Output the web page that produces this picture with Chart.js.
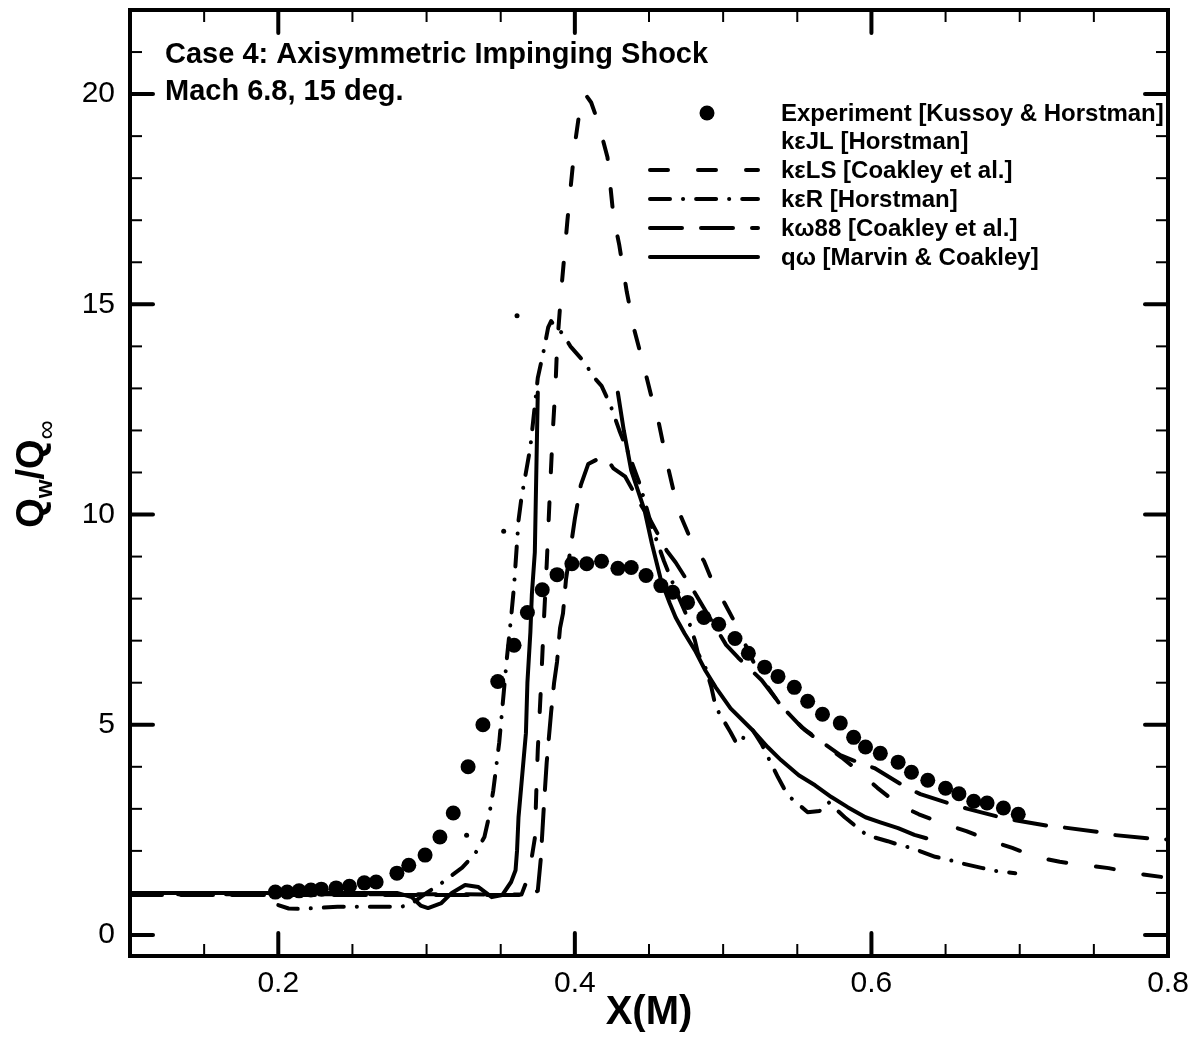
<!DOCTYPE html>
<html>
<head>
<meta charset="utf-8">
<script src="https://cdn.jsdelivr.net/npm/chart.js@4.4.1/dist/chart.umd.min.js"></script>
<style>
  html, body { margin: 0; padding: 0; background: #fff; }
</style>
</head>
<body>
<canvas id="myChart" width="1202" height="1047"></canvas>
<script>
// Achsen-Ticks
const xMajorTicks = [0.2, 0.4, 0.6, 0.8];
const xMinorTicks = [0.15, 0.25, 0.3, 0.35, 0.45, 0.5, 0.55, 0.65, 0.7, 0.75];
const yMajorTicks = [0, 5, 10, 15, 20];
const yMinorTicks = [1, 2, 3, 4, 6, 7, 8, 9, 11, 12, 13, 14, 16, 17, 18, 19, 21];

// Experiment [Kussoy & Horstman]
const expX = [0.198, 0.206, 0.214, 0.222, 0.229, 0.239, 0.248, 0.258, 0.266, 0.280, 0.288, 0.299, 0.309, 0.318, 0.328, 0.338, 0.348, 0.359, 0.368, 0.378, 0.388, 0.398, 0.408, 0.418, 0.429, 0.438, 0.448, 0.458, 0.466, 0.476, 0.487, 0.497, 0.508, 0.517, 0.528, 0.537, 0.548, 0.557, 0.567, 0.579, 0.588, 0.596, 0.606, 0.618, 0.627, 0.638, 0.650, 0.659, 0.669, 0.678, 0.689, 0.699];
const expY = [1.02, 1.02, 1.05, 1.07, 1.09, 1.12, 1.16, 1.24, 1.26, 1.47, 1.66, 1.90, 2.33, 2.90, 4.00, 5.00, 6.03, 6.89, 7.67, 8.21, 8.57, 8.83, 8.83, 8.89, 8.72, 8.74, 8.55, 8.31, 8.15, 7.91, 7.55, 7.39, 7.05, 6.70, 6.37, 6.15, 5.89, 5.56, 5.25, 5.04, 4.70, 4.47, 4.32, 4.11, 3.87, 3.68, 3.49, 3.36, 3.18, 3.14, 3.02, 2.87];

// kεJL [Horstman] (nur einzelne Punkte sichtbar)
const jlX = [0.327, 0.352, 0.361];
const jlY = [2.37, 9.6, 14.73];

// kεLS [Coakley et al.]
const lsX = [0.10, 0.20, 0.30, 0.364, 0.369, 0.373, 0.374, 0.375, 0.377, 0.379, 0.381, 0.383, 0.385, 0.387, 0.388, 0.391, 0.395, 0.400, 0.404, 0.407, 0.411, 0.416, 0.422, 0.426, 0.430, 0.435, 0.440, 0.446, 0.452, 0.456, 0.460, 0.463, 0.467, 0.471, 0.477, 0.483, 0.487, 0.493, 0.501, 0.509, 0.517, 0.525, 0.540, 0.555, 0.567, 0.580, 0.592, 0.604, 0.618, 0.632, 0.649, 0.664, 0.679, 0.695, 0.711, 0.727, 0.744, 0.760, 0.777, 0.800];
const lsY = [0.97, 0.97, 0.97, 0.96, 1.42, 2.3, 3.4, 4.4, 5.8, 7.4, 8.8, 10.4, 11.9, 13.1, 14.0, 15.4, 17.0, 18.8, 19.8, 20.0, 19.8, 19.3, 18.5, 17.1, 16.4, 15.3, 14.4, 13.6, 12.75, 12.28, 11.6, 11.1, 10.5, 10.0, 9.5, 9.1, 8.9, 8.38, 7.89, 7.36, 6.75, 6.15, 5.4, 4.88, 4.55, 4.22, 3.88, 3.5, 3.11, 2.87, 2.64, 2.47, 2.26, 2.07, 1.86, 1.74, 1.66, 1.59, 1.47, 1.36];

// kεR [Horstman]
const rX = [0.200, 0.207, 0.215, 0.225, 0.240, 0.260, 0.283, 0.290, 0.300, 0.310, 0.317, 0.324, 0.333, 0.339, 0.342, 0.345, 0.349, 0.352, 0.354, 0.357, 0.359, 0.362, 0.364, 0.367, 0.370, 0.375, 0.379, 0.382, 0.384, 0.387, 0.392, 0.397, 0.407, 0.412, 0.418, 0.424, 0.430, 0.436, 0.444, 0.452, 0.460, 0.468, 0.476, 0.481, 0.483, 0.488, 0.492, 0.494, 0.497, 0.505, 0.509, 0.512, 0.515, 0.520, 0.526, 0.530, 0.537, 0.541, 0.546, 0.557, 0.565, 0.571, 0.582, 0.589, 0.597, 0.611, 0.619, 0.627, 0.643, 0.651, 0.660, 0.675, 0.684, 0.697];
const rY = [0.71, 0.63, 0.62, 0.64, 0.67, 0.67, 0.67, 0.75, 1.0, 1.23, 1.42, 1.6, 1.95, 2.33, 2.8, 3.44, 4.58, 5.75, 6.53, 7.55, 8.3, 9.86, 10.4, 11.0, 11.6, 13.25, 13.9, 14.45, 14.6, 14.45, 14.3, 14.0, 13.6, 13.3, 13.06, 12.6, 12.0, 11.47, 10.7, 9.7, 8.9, 8.2, 7.55, 7.0, 6.7, 6.37, 5.9, 5.58, 5.3, 4.82, 4.56, 4.56, 4.8, 4.87, 4.54, 4.25, 3.75, 3.49, 3.25, 2.92, 2.95, 3.16, 2.8, 2.6, 2.37, 2.23, 2.14, 2.07, 1.86, 1.8, 1.71, 1.59, 1.52, 1.47];

// kω88 [Coakley et al.]
const wX = [0.10, 0.20, 0.30, 0.370, 0.375, 0.377, 0.379, 0.381, 0.383, 0.384, 0.386, 0.388, 0.390, 0.392, 0.394, 0.400, 0.404, 0.409, 0.416, 0.422, 0.426, 0.434, 0.444, 0.451, 0.462, 0.468, 0.480, 0.490, 0.502, 0.510, 0.526, 0.539, 0.553, 0.565, 0.579, 0.590, 0.602, 0.623, 0.633, 0.654, 0.665, 0.687, 0.697, 0.720, 0.729, 0.753, 0.763, 0.786, 0.800];
const wY = [0.95, 0.95, 0.95, 0.95, 1.05, 1.8, 3.0, 4.1, 4.9, 5.3, 6.0, 6.5, 7.3, 7.65, 8.45, 9.9, 10.7, 11.2, 11.33, 11.3, 11.1, 10.9, 10.26, 9.86, 9.14, 8.86, 8.19, 7.6, 6.9, 6.6, 6.06, 5.46, 4.94, 4.63, 4.28, 4.12, 3.97, 3.52, 3.35, 3.11, 3.0, 2.8, 2.73, 2.59, 2.56, 2.45, 2.38, 2.3, 2.27];

// qω [Marvin & Coakley] (null = Lücke)
const qX = [0.10, 0.20, 0.28, 0.290, 0.296, 0.301, 0.310, 0.317, 0.326, 0.335, 0.344, 0.351, 0.357, 0.360, 0.361, 0.362, 0.364, 0.367, 0.368, 0.370, 0.371, 0.373, 0.374, 0.375, 0.40, 0.429, 0.433, 0.438, 0.447, 0.452, 0.458, 0.464, 0.468, 0.474, 0.481, 0.488, 0.495, 0.505, 0.519, 0.530, 0.539, 0.551, 0.562, 0.573, 0.584, 0.596, 0.606, 0.618, 0.629, 0.637];
const qY = [1.0, 1.0, 1.0, 0.9, 0.7, 0.64, 0.76, 1.0, 1.19, 1.14, 0.9, 0.95, 1.26, 1.54, 2.0, 2.8, 3.6, 4.8, 6.0, 7.2, 8.1, 9.1, 11.0, 12.9, null, 12.9, 12.0, 11.05, 10.1, 9.3, 8.45, 7.89, 7.55, 7.17, 6.77, 6.29, 5.89, 5.39, 4.9, 4.47, 4.16, 3.8, 3.56, 3.28, 3.04, 2.8, 2.68, 2.54, 2.38, 2.3];

const legendLabels = ['Experiment [Kussoy & Horstman]', 'kεJL [Horstman]', 'kεLS [Coakley et al.]', 'kεR [Horstman]', 'kω88 [Coakley et al.]', 'qω [Marvin & Coakley]'];

const FONT = '"Liberation Sans", Arial, Helvetica, sans-serif';

function pts(xs, ys) {
    return xs.map((x, i) => ({ x: x, y: ys[i] }));
}

function curve(label, xs, ys, dash) {
    return {
        label: label,
        data: pts(xs, ys),
        showLine: true,
        borderColor: '#000',
        borderWidth: 4,
        borderDash: dash,
        borderCapStyle: 'round',
        borderJoinStyle: 'round',
        pointRadius: 0,
        spanGaps: false,
        tension: 0
    };
}

const datasets = [
    { label: legendLabels[0], data: pts(expX, expY), showLine: false, pointRadius: 7.5, pointBackgroundColor: '#000', pointBorderWidth: 0 },
    { label: legendLabels[1], data: pts(jlX, jlY), showLine: false, pointRadius: 2.5, pointBackgroundColor: '#000', pointBorderWidth: 0 },
    curve(legendLabels[2], lsX, lsY, [18, 30]),
    curve(legendLabels[3], rX, rY, [20, 13, 0.1, 13]),
    curve(legendLabels[4], wX, wY, [32, 19]),
    curve(legendLabels[5], qX, qY, [])
];

// Rahmen, Ticks nach innen, Beschriftungen und Legende
const decorPlugin = {
    id: 'decor',
    afterDraw(chart) {
        const ctx = chart.ctx;
        const a = chart.chartArea;
        const x = chart.scales.x;
        const y = chart.scales.y;
        function seg(x1, y1, x2, y2) {
            ctx.beginPath(); ctx.moveTo(x1, y1); ctx.lineTo(x2, y2); ctx.stroke();
        }
        ctx.save();
        ctx.strokeStyle = '#000';
        ctx.fillStyle = '#000';

        // kleine Ticks
        ctx.lineWidth = 2;
        ctx.lineCap = 'butt';
        xMinorTicks.forEach(v => {
            const p = x.getPixelForValue(v);
            seg(p, a.bottom, p, a.bottom - 12);
            seg(p, a.top, p, a.top + 12);
        });
        yMinorTicks.forEach(v => {
            const p = y.getPixelForValue(v);
            seg(a.left, p, a.left + 12, p);
            seg(a.right, p, a.right - 12, p);
        });

        // grosse Ticks
        ctx.lineWidth = 4;
        ctx.lineCap = 'round';
        xMajorTicks.forEach(v => {
            const p = x.getPixelForValue(v);
            seg(p, a.bottom, p, a.bottom - 23);
            seg(p, a.top, p, a.top + 23);
        });
        yMajorTicks.forEach(v => {
            const p = y.getPixelForValue(v);
            seg(a.left, p, a.left + 23, p);
            seg(a.right, p, a.right - 23, p);
        });

        // Rahmen
        ctx.lineCap = 'square';
        ctx.lineWidth = 4;
        ctx.strokeRect(a.left, a.top, a.right - a.left, a.bottom - a.top);

        // Titeltext
        ctx.font = 'bold 29px ' + FONT;
        ctx.textAlign = 'left';
        ctx.textBaseline = 'alphabetic';
        ctx.fillText('Case 4: Axisymmetric Impinging Shock', 165, 63);
        ctx.fillText('Mach 6.8, 15 deg.', 165, 100);

        // Legende
        const rowsY = [113, 141, 170, 199, 228, 257];
        ctx.font = 'bold 24px ' + FONT;
        ctx.textBaseline = 'middle';
        legendLabels.forEach((lab, i) => {
            const ds = chart.data.datasets[i];
            const ry = rowsY[i];
            if (i === 0) {
                ctx.beginPath();
                ctx.arc(707, ry, 7.5, 0, Math.PI * 2);
                ctx.fill();
            } else if (ds.showLine) {
                ctx.lineWidth = 4;
                ctx.lineCap = 'round';
                ctx.setLineDash(ds.borderDash);
                seg(650, ry, 758, ry);
                ctx.setLineDash([]);
            }
            ctx.fillText(lab, 781, ry + 1);
        });

        // X-Achsentitel
        ctx.font = 'bold 40px ' + FONT;
        ctx.textAlign = 'center';
        ctx.textBaseline = 'middle';
        ctx.fillText('X(M)', (a.left + a.right) / 2, 1013);

        // Y-Achsentitel mit Indizes
        ctx.save();
        ctx.translate(43, 474);
        ctx.rotate(-Math.PI / 2);
        ctx.textAlign = 'left';
        ctx.textBaseline = 'alphabetic';
        const parts = [
            { t: 'Q', f: 'bold 38px ' + FONT, dy: 0 },
            { t: 'w', f: 'bold 24px ' + FONT, dy: 9 },
            { t: '/Q', f: 'bold 38px ' + FONT, dy: 0 },
            { t: '∞', f: '27px ' + FONT, dy: 12 }
        ];
        let total = 0;
        parts.forEach(p => { ctx.font = p.f; p.w = ctx.measureText(p.t).width; total += p.w; });
        let cx = -total / 2;
        parts.forEach(p => { ctx.font = p.f; ctx.fillText(p.t, cx, p.dy); cx += p.w; });
        ctx.restore();

        ctx.restore();
    }
};

const config = {
    type: 'scatter',
    data: { datasets: datasets },
    options: {
        responsive: false,
        animation: false,
        devicePixelRatio: 1,
        layout: { padding: { left: 0, right: 34, top: 10, bottom: 0 } },
        plugins: {
            legend: { display: false },
            tooltip: { enabled: false },
            title: { display: false }
        },
        scales: {
            x: {
                type: 'linear',
                min: 0.1,
                max: 0.8,
                grid: { display: false, drawTicks: false },
                border: { display: false },
                afterFit: s => { s.height = 91; s.paddingLeft = 0; s.paddingRight = 0; },
                afterBuildTicks: s => { s.ticks = xMajorTicks.map(v => ({ value: v })); },
                ticks: {
                    padding: 10,
                    color: '#000',
                    font: { family: FONT, size: 30 },
                    maxRotation: 0,
                    callback: v => String(v)
                }
            },
            y: {
                type: 'linear',
                min: -0.5,
                max: 22,
                grid: { display: false, drawTicks: false },
                border: { display: false },
                afterFit: s => { s.width = 130; s.paddingTop = 0; s.paddingBottom = 0; },
                afterBuildTicks: s => { s.ticks = yMajorTicks.map(v => ({ value: v })); },
                ticks: {
                    padding: 15,
                    color: '#000',
                    font: { family: FONT, size: 30 },
                    callback: v => String(v)
                }
            }
        }
    },
    plugins: [decorPlugin]
};

const ctx = document.getElementById('myChart').getContext('2d');
const myChart = new Chart(ctx, config);
</script>
</body>
</html>
